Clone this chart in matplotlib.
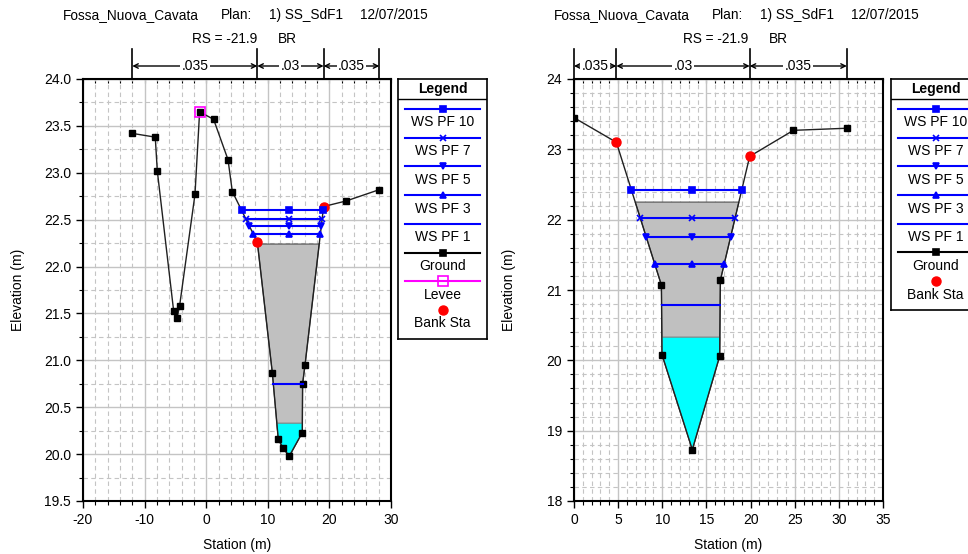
import numpy as np
import matplotlib
matplotlib.use('Agg')
import matplotlib.pyplot as plt
from matplotlib.ticker import MultipleLocator, FormatStrFormatter
from matplotlib.transforms import blended_transform_factory

plt.rcParams['font.family'] = ['Liberation Sans', 'DejaVu Sans']
plt.rcParams['axes.unicode_minus'] = False

W, H = 968, 554

# ---- data ----
# left panel (upstream side)
sta1 = [-12.0, -8.27, -7.94, -5.29, -4.74, -4.32, -1.82, -1.07, 1.2, 3.54, 4.24,
        8.3, 10.73, 11.7, 12.5, 13.5, 15.6, 15.65, 16.04, 19.06, 22.75, 28.1]
elev1 = [23.42, 23.38, 23.02, 21.53, 21.45, 21.58, 22.77, 23.65, 23.57, 23.14, 22.80,
         22.26, 20.87, 20.16, 20.06, 19.98, 20.23, 20.75, 20.95, 22.64, 22.70, 22.82]
bank1 = [8.3, 19.06]
levee1 = (-1.07, 23.65)
ws1 = [22.60, 22.51, 22.43, 22.35, 20.75]
gray1, cyan1 = 22.24, 20.33

# right panel (downstream side)
sta2 = [0.0, 4.8, 9.9, 9.97, 13.4, 16.5, 16.58, 19.9, 24.85, 30.9]
elev2 = [23.45, 23.10, 21.07, 20.08, 18.73, 20.06, 21.14, 22.90, 23.27, 23.30]
bank2 = [4.8, 19.9]
ws2 = [22.42, 22.03, 21.75, 21.37, 20.79]
gray2, cyan2 = 22.25, 20.33

n_values = ['.035', '.03', '.035']
ws_names = ['WS PF 10', 'WS PF 7', 'WS PF 5', 'WS PF 3', 'WS PF 1']
ws_markers = ['s', 'x', 'v', '^', None]

BLUE = '#0000ff'


def px_rect(x0, y0, x1, y1):
    return [x0 / W, 1 - y1 / H, (x1 - x0) / W, (y1 - y0) / H]


def crossing(x, y, level, i0, step):
    i = i0
    while y[i + step] < level:
        i += step
    j = i + step
    t = (level - y[i]) / (y[j] - y[i])
    return i, x[i] + t * (x[j] - x[i])


def wet_polygon(x, y, level):
    i0 = int(np.argmin(y))
    il, xl = crossing(x, y, level, i0, -1)
    ir, xr = crossing(x, y, level, i0, 1)
    px = [xl] + list(x[il:ir + 1]) + [xr]
    py = [level] + list(y[il:ir + 1]) + [level]
    return px, py, xl, xr


def panel(rect, sta, elev, banks, ws, gray, cyan, xlim, ylim, xmaj, xmin, ymaj, ymin, yfmt, levee=None):
    x = np.array(sta)
    y = np.array(elev)
    ax = fig.add_axes(px_rect(*rect))
    ax.set_xlim(*xlim)
    ax.set_ylim(*ylim)

    ax.xaxis.set_major_locator(MultipleLocator(xmaj))
    ax.xaxis.set_minor_locator(MultipleLocator(xmin))
    ax.yaxis.set_major_locator(MultipleLocator(ymaj))
    ax.yaxis.set_minor_locator(MultipleLocator(ymin))
    ax.yaxis.set_major_formatter(FormatStrFormatter(yfmt))
    ax.grid(which='major', color='#c4c4c4', lw=1.0, ls='-', zorder=0)
    ax.grid(which='minor', color='#c4c4c4', lw=0.8, ls=(0, (4, 3)), zorder=0)
    ax.set_axisbelow(True)
    ax.tick_params(which='major', length=5, width=1, labelsize=10, direction='out')
    ax.tick_params(which='minor', length=3, width=0.8, direction='out')
    for s in ax.spines.values():
        s.set_linewidth(1.5)
    top = ax.secondary_xaxis('top')
    top.xaxis.set_major_locator(MultipleLocator(xmaj))
    top.xaxis.set_minor_locator(MultipleLocator(xmin))
    top.tick_params(which='both', direction='in', labeltop=False, length=3, width=0.8)

    # fills
    gx, gy, _, _ = wet_polygon(x, y, gray)
    ax.fill(gx, gy, facecolor='#c0c0c0', edgecolor='#505050', lw=0.8, zorder=1)
    cx, cy, _, _ = wet_polygon(x, y, cyan)
    ax.fill(cx, cy, facecolor='#00ffff', edgecolor='#808080', lw=0.8, zorder=2)

    # ground
    ax.plot(x, y, color='#202020', lw=1.0, marker='s', ms=5, mfc='black', mec='black', zorder=3)

    # water surfaces
    thal = x[int(np.argmin(y))]
    for lev, mk in zip(ws, ws_markers):
        _, _, xl, xr = wet_polygon(x, y, lev)
        ax.plot([xl, xr], [lev, lev], color=BLUE, lw=1.5, zorder=5)
        if mk:
            ax.plot([xl, thal, xr], [lev] * 3, ls='none', marker=mk, color=BLUE,
                    ms=4.5 if mk != 'x' else 4, mew=1.2, zorder=5)

    # bank stations
    by = np.interp(banks, x, y)
    ax.plot(banks, by, ls='none', marker='o', ms=6.5, color='red', zorder=4)
    if levee:
        ax.plot([levee[0]], [levee[1]], ls='none', marker='s', ms=7, mfc='none',
                mec='#ff00ff', mew=1.2, zorder=6)

    # manning's n bar above the plot
    tr = blended_transform_factory(ax.transData, ax.transAxes)
    hpx = rect[3] - rect[1]
    yv = 1 + 30 / hpx
    ya = 1 + 13 / hpx
    brk = [x[0], banks[0], banks[1], x[-1]]
    for b in brk:
        ax.plot([b, b], [1.0, yv], transform=tr, clip_on=False, color='black', lw=1.2)
    for a, b, n in zip(brk[:-1], brk[1:], n_values):
        ax.annotate('', xy=(a, ya), xytext=(b, ya), xycoords=tr, textcoords=tr,
                    arrowprops=dict(arrowstyle='<->', lw=1.0, color='black',
                                    shrinkA=0, shrinkB=0, mutation_scale=8))
        ax.text((a + b) / 2, ya, n, transform=tr, ha='center', va='center', fontsize=10,
                bbox=dict(facecolor='white', edgecolor='none', pad=1))

    # headings
    x0 = rect[0]
    for dx, s in [(-20.5, 'Fossa_Nuova_Cavata'), (138, 'Plan:'), (186, '1) SS_SdF1'), (277, '12/07/2015')]:
        fig.text((x0 + dx) / W, 1 - 15 / H, s, ha='left', va='center', fontsize=9.8)
    for dx, s in [(109, 'RS = -21.9'), (195, 'BR')]:
        fig.text((x0 + dx) / W, 1 - 39 / H, s, ha='left', va='center', fontsize=9.8)
    fig.text((x0 - 65) / W, 1 - ((rect[1] + rect[3]) / 2) / H, 'Elevation (m)', rotation=90,
             ha='center', va='center', fontsize=10)
    fig.text(((rect[0] + rect[2]) / 2) / W, 1 - 545 / H, 'Station (m)',
             ha='center', va='center', fontsize=10)
    return ax


def legend(x0, y0, x1, y1, entries):
    lg = fig.add_axes(px_rect(x0, y0, x1, y1))
    lg.set_xlim(x0, x1)
    lg.set_ylim(y1, y0)
    lg.set_xticks([])
    lg.set_yticks([])
    for s in lg.spines.values():
        s.set_linewidth(1.2)
    xm = x0 + 44.5
    lg.text(xm, 88.5, 'Legend', ha='center', va='center', fontsize=10, fontweight='bold')
    lg.plot([x0, x1], [99, 99], color='black', lw=1.0)
    for i, (label, kind, col, mk) in enumerate(entries):
        ly = 109 + i * 28.7
        if kind == 'line':
            lg.plot([x0 + 7, x0 + 82], [ly, ly], color=col, lw=1.5)
            if mk == 'open':
                lg.plot([xm], [ly], marker='s', ms=7, mfc='none', mec=col, mew=1.2)
            elif mk:
                lg.plot([xm], [ly], marker=mk, ms=4.5, color=col, mew=1.2)
        else:
            lg.plot([xm], [ly], marker='o', ms=6.5, color='red')
        lg.text(xm, ly + 13.5, label, ha='center', va='center', fontsize=10)


fig = plt.figure(figsize=(W / 100, H / 100), dpi=100)

panel((83, 79, 391, 501), sta1, elev1, bank1, ws1, gray1, cyan1,
      (-20, 30), (19.5, 24.0), 10, 2, 0.5, 0.25, '%.1f', levee=levee1)
panel((574, 79, 883, 501), sta2, elev2, bank2, ws2, gray2, cyan2,
      (0, 35), (18, 24), 5, 1, 1, 0.2, '%d')

ws_entries = [(nm, 'line', BLUE, mk) for nm, mk in zip(ws_names, ws_markers)]
legend(398, 79, 487, 339, ws_entries + [('Ground', 'line', 'black', 's'),
                                        ('Levee', 'line', '#ff00ff', 'open'),
                                        ('Bank Sta', 'dot', 'red', None)])
legend(891, 79, 979, 310, ws_entries + [('Ground', 'line', 'black', 's'),
                                        ('Bank Sta', 'dot', 'red', None)])

fig.savefig('out.png', dpi=100)
